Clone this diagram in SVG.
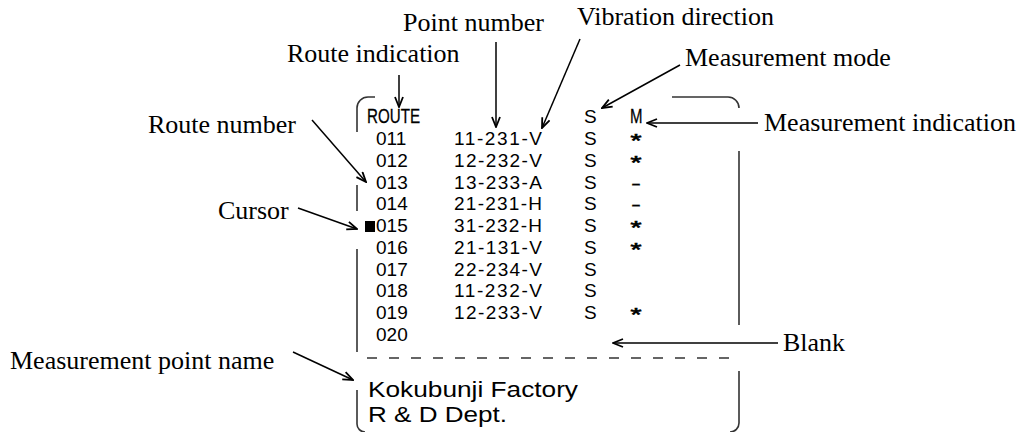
<svg xmlns="http://www.w3.org/2000/svg" width="1027" height="432" viewBox="0 0 1027 432">
<defs>
<style>
.lbl{font-family:"Liberation Serif","Times New Roman",serif;font-size:26px;fill:#000}
.mono{font-family:"Liberation Sans",Arial,sans-serif;font-size:19px;fill:#000}
.hdr{font-family:"Liberation Sans",Arial,sans-serif;font-size:20.5px;fill:#000;stroke:#000;stroke-width:0.3}
.ast{font-family:"Liberation Sans",Arial,sans-serif;font-size:19px;fill:#000;stroke:#000;stroke-width:0.7;text-anchor:middle}
.dsh{font-family:"Liberation Sans",Arial,sans-serif;font-size:19px;fill:#000;stroke:#000;stroke-width:0.3;text-anchor:middle}
.name{font-family:"Liberation Sans",Arial,sans-serif;font-size:22.3px;fill:#000}
.arr{fill:none;stroke:#000;stroke-width:1.5;marker-end:url(#ah)}
.frm{fill:none;stroke:#333;stroke-width:1.6}
</style>
<marker id="ah" viewBox="0 0 12 10" refX="11" refY="5" markerWidth="12" markerHeight="10" markerUnits="userSpaceOnUse" orient="auto">
<path d="M1,1 L11,5 L1,9" fill="none" stroke="#000" stroke-width="1.8"/>
</marker>
</defs>
<rect width="1027" height="432" fill="#fff"/>

<g id="frame">
<path class="frm" d="M357,132 V108 A11,11 0 0 1 368,97 H375"/>
<path class="frm" d="M357,185 V211"/>
<path class="frm" d="M357,249 V352"/>
<path class="frm" d="M357,390 V424 A8,8 0 0 0 365,432"/>
<path class="frm" d="M672,97 H728 A11,11 0 0 1 739,108"/>
<path class="frm" d="M739,151 V325"/>
<path class="frm" d="M739,371 V423 A9,9 0 0 1 730,432"/>
<path class="frm" d="M367,358 H729" stroke-dasharray="10 12"/>
</g>

<g id="table">
<text class="hdr" x="367" y="123" textLength="53" lengthAdjust="spacingAndGlyphs">ROUTE</text>
<text class="mono" x="584" y="123">S</text>
<text class="hdr" x="630" y="123" textLength="12.5" lengthAdjust="spacingAndGlyphs">M</text>
<g id="rows">
<g class="mono">
<text x="376" y="145">011</text><text x="454" y="145" textLength="88" lengthAdjust="spacing">11-231-V</text><text x="584" y="145">S</text>
<text x="376" y="167">012</text><text x="454" y="167" textLength="88" lengthAdjust="spacing">12-232-V</text><text x="584" y="167">S</text>
<text x="376" y="189">013</text><text x="454" y="189" textLength="88" lengthAdjust="spacing">13-233-A</text><text x="584" y="189">S</text>
<text x="376" y="210">014</text><text x="454" y="210" textLength="88" lengthAdjust="spacing">21-231-H</text><text x="584" y="210">S</text>
<text x="376" y="232">015</text><text x="454" y="232" textLength="88" lengthAdjust="spacing">31-232-H</text><text x="584" y="232">S</text>
<text x="376" y="254">016</text><text x="454" y="254" textLength="88" lengthAdjust="spacing">21-131-V</text><text x="584" y="254">S</text>
<text x="376" y="276">017</text><text x="454" y="276" textLength="88" lengthAdjust="spacing">22-234-V</text><text x="584" y="276">S</text>
<text x="376" y="297">018</text><text x="454" y="297" textLength="88" lengthAdjust="spacing">11-232-V</text><text x="584" y="297">S</text>
<text x="376" y="319">019</text><text x="454" y="319" textLength="88" lengthAdjust="spacing">12-233-V</text><text x="584" y="319">S</text>
<text x="376" y="341">020</text>
</g>
<g>
<text class="ast" x="636" y="146.5" textLength="11" lengthAdjust="spacingAndGlyphs">*</text>
<text class="ast" x="636" y="168.5" textLength="11" lengthAdjust="spacingAndGlyphs">*</text>
<text class="dsh" x="636" y="190" textLength="10" lengthAdjust="spacingAndGlyphs">-</text>
<text class="dsh" x="636" y="211" textLength="10" lengthAdjust="spacingAndGlyphs">-</text>
<text class="ast" x="636" y="233.5" textLength="11" lengthAdjust="spacingAndGlyphs">*</text>
<text class="ast" x="636" y="255.5" textLength="11" lengthAdjust="spacingAndGlyphs">*</text>
<text class="ast" x="636" y="320.5" textLength="11" lengthAdjust="spacingAndGlyphs">*</text>
</g>
</g>
<rect id="cursor-mark" x="365" y="221" width="10" height="11" fill="#000"/>
</g>

<g id="point-name">
<text class="name" x="368" y="397" textLength="210" lengthAdjust="spacingAndGlyphs">Kokubunji Factory</text>
<text class="name" x="368" y="422" textLength="139" lengthAdjust="spacingAndGlyphs">R &amp; D Dept.</text>
</g>

<g id="lbl-point-number"><text class="lbl" x="403" y="31">Point number</text></g>
<g id="lbl-vibration"><text class="lbl" x="577" y="25">Vibration direction</text></g>
<g id="lbl-route-indication"><text class="lbl" x="287" y="62">Route indication</text></g>
<g id="lbl-meas-mode"><text class="lbl" x="685" y="66">Measurement mode</text></g>
<g id="lbl-route-number"><text class="lbl" x="148" y="133">Route number</text></g>
<g id="lbl-meas-indication"><text class="lbl" x="764" y="131">Measurement indication</text></g>
<g id="lbl-cursor"><text class="lbl" x="218" y="219">Cursor</text></g>
<g id="lbl-blank"><text class="lbl" x="783" y="351">Blank</text></g>
<g id="lbl-meas-point-name"><text class="lbl" x="10" y="369">Measurement point name</text></g>

<g id="connectors">
<path class="arr" d="M399,75 V107"/>
<path class="arr" d="M496,42 V127"/>
<path class="arr" d="M580,39 L542,128"/>
<path class="arr" d="M680,65 L602,108"/>
<path class="arr" d="M758,123 H647"/>
<path class="arr" d="M312,120 L366,182"/>
<path class="arr" d="M298,208 L357,229"/>
<path class="arr" d="M293,352 L353,380"/>
<path class="arr" d="M778,343 H613"/>
</g>
</svg>
